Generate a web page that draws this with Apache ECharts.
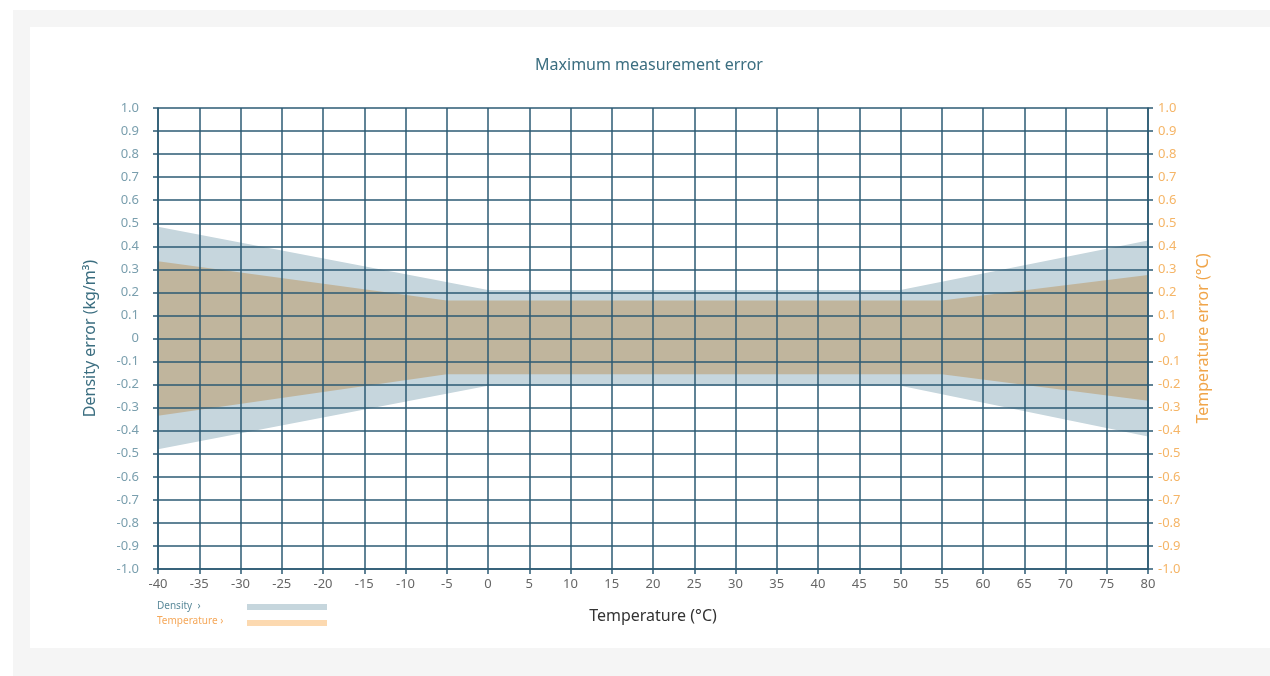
<!DOCTYPE html>
<html><head><meta charset="utf-8">
<style>
html,body{margin:0;padding:0;background:#fff;}
#wrap{position:absolute;left:13px;top:10px;width:1257px;height:666px;background:#f5f5f5;}
#card{position:absolute;left:30px;top:27px;width:1240px;height:621px;background:#fff;}
#chart{position:absolute;left:0;top:0;width:1270px;height:676px;}
</style>
<script src="https://cdn.jsdelivr.net/npm/echarts@6/dist/echarts.min.js"></script>
</head><body>
<div id="wrap"></div><div id="card"></div>
<div id="chart"></div>
<script>
const xTicks = [-40,-35,-30,-25,-20,-15,-10,-5,0,5,10,15,20,25,30,35,40,45,50,55,60,65,70,75,80];
const densityX = [-40, 0, 50, 80];
const densityUpper = [0.485, 0.21, 0.21, 0.425];
const densityLower = [-0.48, -0.205, -0.205, -0.425];
const tempX = [-40, -5, 55, 80];
const tempUpper = [0.335, 0.165, 0.165, 0.275];
const tempLower = [-0.335, -0.155, -0.155, -0.27];

const chart = echarts.init(document.getElementById('chart'), null, {renderer:'canvas'});
const lineCol = '#2b5a73';
const fontFam = '"Noto Sans", "Open Sans", sans-serif';

function bandSeries(name, xs, up, lo, color){
  const data = xs.map((x,i)=>[x, up[i], lo[i]]);
  return {
    type:'custom', name:name, z:2, clip:true,
    data:data,
    encode:{x:0, y:[1,2]},
    renderItem:function(params, api){
      if(params.dataIndexInside !== 0) return null;
      const pts = [];
      for(let i=0;i<xs.length;i++) pts.push(api.coord([xs[i], up[i]]));
      for(let i=xs.length-1;i>=0;i--) pts.push(api.coord([xs[i], lo[i]]));
      return {type:'polygon', shape:{points:pts}, style:{fill:color}};
    }
  };
}

function fmt(v){ return Math.abs(v)<1e-9 ? '0' : v.toFixed(1); }

chart.setOption({
  animation:false,
  title:{text:'Maximum measurement error', left:644, top:52, textAlign:'center',
    textStyle:{color:'#3b6e80', fontSize:16, fontWeight:'normal', fontFamily:fontFam}},
  grid:{left:158, right:122, top:108, bottom:107},
  xAxis:{type:'value', min:-40, max:80, interval:5, z:10,
    name:'Temperature (°C)', nameLocation:'middle', nameGap:39,
    nameTextStyle:{color:'#333', fontSize:16, fontFamily:fontFam},
    axisLine:{show:true, onZero:false, lineStyle:{color:lineCol, width:1.5}},
    axisTick:{show:true, length:5, lineStyle:{color:lineCol, width:1.5}},
    axisLabel:{color:'#666', fontSize:13, margin:9, fontFamily:fontFam,
      formatter:function(v){ return xTicks.indexOf(v)>=0 ? String(v) : ''; }},
    splitLine:{show:true, lineStyle:{color:lineCol, width:1.5}}
  },
  yAxis:[
    {type:'value', min:-1, max:1, interval:0.1, z:10, position:'left',
      name:'Density error (kg/m³)', nameLocation:'middle', nameGap:60,
      nameTextStyle:{color:'#3b6e80', fontSize:16, fontFamily:fontFam},
      axisLine:{show:true, onZero:false, lineStyle:{color:lineCol, width:1.5}},
      axisTick:{show:true, length:5, lineStyle:{color:lineCol, width:1.5}},
      axisLabel:{color:'#7a9fae', fontSize:13, margin:19, fontFamily:fontFam, formatter:fmt},
      splitLine:{show:true, lineStyle:{color:lineCol, width:1.5}}
    },
    {type:'value', min:-1, max:1, interval:0.1, z:10, position:'right',
      name:'Temperature error (°C)', nameLocation:'middle', nameGap:47, nameRotate:90,
      nameTextStyle:{color:'#f0a54a', fontSize:16, fontFamily:fontFam},
      axisLine:{show:true, onZero:false, lineStyle:{color:lineCol, width:1.5}},
      axisTick:{show:true, length:5, lineStyle:{color:lineCol, width:1.5}},
      axisLabel:{color:'#f5b567', fontSize:13, margin:10, fontFamily:fontFam, formatter:fmt},
      splitLine:{show:false}
    }
  ],
  series:[
    bandSeries('Density', densityX, densityUpper, densityLower, '#c6d6dd'),
    bandSeries('Temperature', tempX, tempUpper, tempLower, '#c0b59d')
  ],
  graphic:[
    {type:'text', left:157, top:601, style:{text:'Density  ›', fill:'#5b8a9a', fontSize:10, fontFamily:fontFam}},
    {type:'rect', shape:{x:247, y:604, width:80, height:6}, style:{fill:'#c6d6dd'}},
    {type:'text', left:157, top:616, style:{text:'Temperature ›', fill:'#f5a85a', fontSize:10, fontFamily:fontFam}},
    {type:'rect', shape:{x:247, y:620, width:80, height:6}, style:{fill:'#fcd9b0'}}
  ]
});
</script>
</body></html>
